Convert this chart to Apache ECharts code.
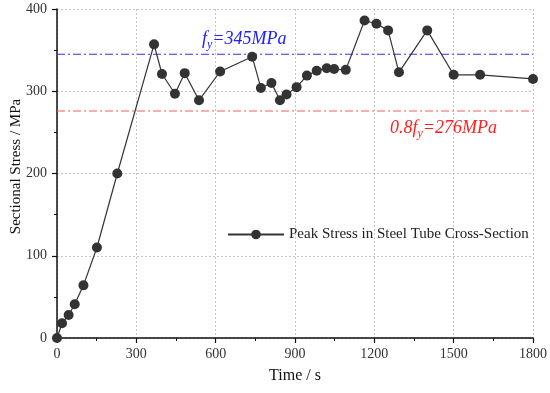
<!DOCTYPE html>
<html>
<head>
<meta charset="utf-8">
<script src="https://cdn.jsdelivr.net/npm/echarts@6/dist/echarts.min.js"></script>
<style>html,body{margin:0;padding:0;background:#fff}#c{width:550px;height:393px}</style>
</head>
<body>
<div id="c"></div>
<script>
const timeS = [0, 19, 44, 67, 100, 151, 228, 367, 397, 446, 483, 537, 617, 738, 771, 811, 843, 868, 906, 945, 982, 1020, 1048, 1092, 1163, 1208, 1252, 1293, 1400, 1500, 1600, 1800];
const stressMPa = [0, 18, 28, 41, 64, 110, 200, 357, 321, 297, 322, 289, 324, 342, 304, 310, 289, 296, 305, 319, 325, 328, 327, 326, 386, 382, 374, 323, 374, 320, 320, 315];
const fy = 345;
const fy08 = 276;
const seriesName = 'Peak Stress in Steel Tube Cross-Section';
const xTicks = [0, 300, 600, 900, 1200, 1500, 1800];
const yTicks = [0, 100, 200, 300, 400];

const serif = '"Liberation Serif", "Times New Roman", serif';
const chart = echarts.init(document.getElementById('c'), null, {renderer: 'canvas'});
const pts = timeS.map((t, i) => [t, stressMPa[i]]);
const xMin = xTicks[0], xMax = xTicks[xTicks.length - 1];

const axisCommon = {
  axisLine: {show: true, onZero: false, lineStyle: {color: '#111', width: 1.5}},
  axisTick: {show: true, inside: false, length: 5, lineStyle: {color: '#111', width: 1.2}},
  minorTick: {show: true, splitNumber: 2, length: 3, lineStyle: {color: '#111', width: 1}},
  splitLine: {show: true, lineStyle: {color: '#c4c4c4', type: [2, 2], width: 1}},
  axisLabel: {fontFamily: serif, fontSize: 14, color: '#333', formatter: v => String(v)},
  nameTextStyle: {fontFamily: serif, fontSize: 16, color: '#111'},
  nameMoveOverlap: false
};

function refSeries(val, color, textColor, pos, dist, padLeft, prefix) {
  return {
    name: 'ref' + val,
    type: 'line',
    data: [[xMin, val], [xMax, val]],
    symbol: 'none',
    silent: true,
    z: 1,
    lineStyle: {color: color, type: [8, 3, 2, 3], width: 1.1},
    itemStyle: {color: color},
    markLine: {
      silent: true,
      symbol: 'none',
      animation: false,
      lineStyle: {color: 'rgba(0,0,0,0)', width: 0},
      data: [{
        yAxis: val,
        lineStyle: {color: 'rgba(0,0,0,0)', width: 0},
        label: {
          show: true, position: pos, distance: dist,
          padding: [0, 0, 0, padLeft],
          formatter: '{a|' + prefix + 'f}{b|y}{a|=' + val + 'MPa}',
          rich: {
            a: {fontFamily: serif, fontStyle: 'italic', fontSize: 18, color: textColor, lineHeight: 24, verticalAlign: 'middle'},
            b: {fontFamily: serif, fontStyle: 'italic', fontSize: 12, color: textColor, lineHeight: 12, verticalAlign: 'bottom'}
          }
        }
      }]
    }
  };
}

chart.setOption({
  animation: false,
  backgroundColor: '#fff',
  grid: {left: 57, right: 17, top: 9, bottom: 55, containLabel: false, outerBoundsMode: 'none'},
  xAxis: Object.assign({}, axisCommon, {
    type: 'value', min: xMin, max: xMax, interval: 300,
    name: 'Time / s', nameLocation: 'middle', nameGap: 30,
    axisLabel: Object.assign({}, axisCommon.axisLabel, {margin: 9})
  }),
  yAxis: Object.assign({}, axisCommon, {
    type: 'value', min: yTicks[0], max: yTicks[yTicks.length - 1], interval: 100,
    name: 'Sectional Stress / MPa', nameLocation: 'middle', nameGap: 33, nameRotate: 90,
    nameTextStyle: {fontFamily: serif, fontSize: 15, color: '#111', padding: [0, 0, 0, 14]},
    axisLabel: Object.assign({}, axisCommon.axisLabel, {margin: 10})
  }),
  legend: {
    show: true, left: 222, top: 222, itemWidth: 56, itemHeight: 12,
    textStyle: {fontFamily: serif, fontSize: 15, color: '#222'},
    data: [seriesName]
  },
  series: [
    refSeries(fy, '#3030ff', '#2020ff', 'insideStartTop', 3, 142, ''),
    refSeries(fy08, '#ff5a5a', '#ff2020', 'insideStartBottom', 5, 328, '0.8'),
    {
      name: seriesName,
      type: 'line',
      data: pts,
      symbol: 'circle',
      symbolSize: 10,
      itemStyle: {color: '#333'},
      lineStyle: {color: '#333', width: 1.2},
      clip: false,
      z: 3
    }
  ]
});
</script>
</body>
</html>
